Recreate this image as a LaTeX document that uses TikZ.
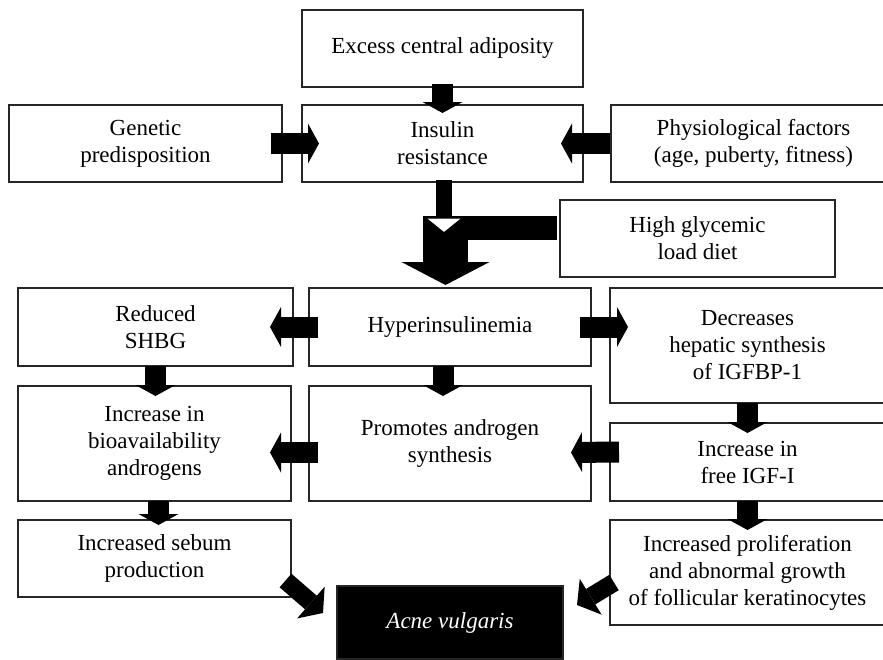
\documentclass[tikz,border=0pt]{standalone}
\usepackage{fontspec}
\setmainfont{Liberation Serif}
\usetikzlibrary{positioning}
\usetikzlibrary{arrows.meta}

\begin{document}
\begin{tikzpicture}[x=1pt, y=1pt, outer sep=0,
        box/.style={draw=black!85, line width=1.2pt, rectangle, minimum height=77pt, inner sep=2pt, align=center, font=\fontsize{23pt}{27pt}\selectfont},
        fat/.style={line width=21pt, -{Triangle[length=11pt, width=40pt, line width=0pt]}},
        slant/.style={line width=18pt, -{Triangle[length=16pt, width=42pt, line width=0pt]}}]
        \useasboundingbox (0,0) rectangle (883,-659);
        \clip (0,0) rectangle (883,-659);
        % top boxes
        \node [box, minimum width=281pt, anchor=north west] (1) at (302,-10) {Excess central adiposity};
        \node [box, minimum width=281pt, below = 18pt of 1] (2) {Insulin\\resistance};
        \node [box, minimum width=273pt, left = 20pt of 2] (3) {Genetic\\predisposition};
        \node [box, minimum width=285pt, right = 28pt of 2] (4) {Physiological factors\\(age, puberty, fitness)};
        \node [box, minimum width=275pt, anchor=north west] (5) at (560,-200) {High glycemic\\load diet};
        \draw[fat] ([yshift=3pt]1.south) -- ([yshift=-8pt]2.north);
        \draw[fat] ([xshift=-11pt]3.east) -- ([xshift=17pt]2.west);
        \draw[fat] ([xshift=-1pt]4.west) -- ([xshift=-22pt]2.east);
        % middle boxes
        \node [box, minimum width=282pt, minimum height=78pt, anchor=north west] (6) at (309,-288) {Hyperinsulinemia};
        \node [box, minimum width=275pt, minimum height=78pt, left = 16pt of 6] (7) {Reduced\\SHBG};
        \node [box, minimum width=275pt, minimum height=115pt, anchor=north west] (8) at ([xshift=19pt]6.north east) {Decreases\\hepatic synthesis\\of IGFBP-1};
        \node [box, minimum width=282pt, minimum height=115pt, below = 20pt of 6] (9) {Promotes androgen\\synthesis};
        \node [box, minimum width=273pt, minimum height=115pt, left = 18pt of 9] (10) {Increase in\\bioavailability\\androgens};
        \node [box, minimum width=275pt, minimum height=78pt, anchor=south west] (11) at ([xshift=19pt]9.south east) {Increase in\\free IGF-I};
        % glycemic load joins the insulin arrow
        \draw[line width=24pt] ([shift={(-3pt,10.5pt)}]5.west) -- ([yshift=10.5pt]5.west -| 2.south);
        \draw[line width=45pt, -{Triangle[length=23pt, width=88pt, line width=0pt]}] ([shift={(3pt,22.5pt)}]5.west -| 2.south) -- ([shift={(3pt,3pt)}]6.north -| 2.south);
        \draw[line width=16pt, -{Triangle[length=17pt, width=42pt, fill=white, line width=1.5pt]}] ([xshift=1.5pt,yshift=2pt]2.south) -- ([xshift=1.5pt,yshift=-52pt]2.south);
        \draw[fat] ([xshift=9pt]6.west) -- ([xshift=-23pt]7.east);
        \draw[fat] ([xshift=-11pt]6.east) -- ([xshift=37pt]6.east);
        \draw[fat] (7.south) -- ([yshift=-10pt]7.south |- 10.north);
        \draw[fat] ([xshift=-7pt]6.south) -- ([xshift=-7pt,yshift=-10pt]9.north);
        \draw[fat] (8.south) -- ([yshift=-10pt]8.south |- 11.north);
        \draw[fat] ([shift={(9pt,-9pt)}]9.west) -- ([shift={(-21pt,-9pt)}]10.east);
        \draw[fat] ([shift={(9pt,10pt)}]11.west) -- ([shift={(-20pt,-9pt)}]9.east);
        % bottom boxes
        \node [box, minimum width=273pt, below = 19pt of 10] (12) {Increased sebum\\production};
        \node [box, minimum width=275pt, minimum height=105pt, anchor=north west] (13) at ([yshift=-19pt]11.south west) {Increased proliferation\\and abnormal growth\\of follicular keratinocytes};
        \node [box, minimum width=226pt, minimum height=73pt, fill=black, text=white, font=\fontsize{23pt}{27pt}\selectfont\itshape, below = 85pt of 9] (14) {Acne vulgaris};
        \draw[fat] ([xshift=4pt]10.south) -- ([xshift=4pt,yshift=-5pt]12.north);
        \draw[fat] (11.south) -- ([yshift=-10pt]13.north);
        \draw[slant] ([shift={(-5.5pt,-22pt)}]12.east) -- ([shift={(-14pt,9.5pt)}]14.west);
        \draw[slant] ([shift={(4pt,-10pt)}]13.west) -- ([shift={(14pt,17.5pt)}]14.east);
    \end{tikzpicture}
\end{document}
